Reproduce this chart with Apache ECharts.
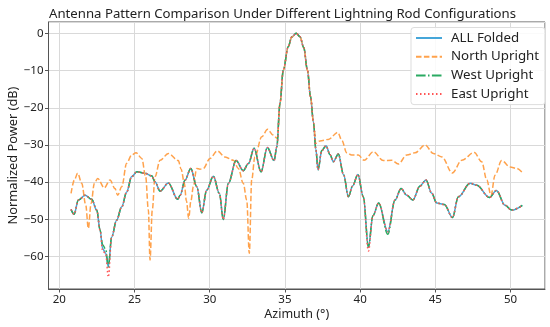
<!DOCTYPE html>
<html>
<head>
<meta charset="utf-8">
<script src="https://cdn.jsdelivr.net/npm/echarts@6/dist/echarts.min.js"></script>
<style>html,body{margin:0;padding:0;background:#fff}#c{width:550px;height:327px}</style>
</head>
<body>
<div id="c"></div>
<script>
const titleText = 'Antenna Pattern Comparison Under Different Lightning Rod Configurations';
const seriesNames = ['ALL Folded', 'North Upright', 'West Upright', 'East Upright'];

const foldedAz = [20.78, 20.98, 21.27, 21.71, 22.15, 22.49, 22.71, 22.88, 23.08, 23.26, 23.48, 23.81, 24.15, 24.48, 24.81, 25.16, 25.7, 26.14, 26.36, 26.7, 27.25, 27.87, 28.03, 28.36, 28.74, 29.14, 29.47, 29.8, 30.24, 30.64, 30.9, 31.24, 31.75, 32.23, 32.57, 32.95, 33.41, 33.83, 34.28, 34.46, 34.67, 34.89, 35.22, 35.45, 35.75, 36.0, 36.25, 36.5, 36.7, 36.9, 37.05, 37.2, 37.45, 37.73, 38.0, 38.22, 38.55, 38.9, 39.22, 39.5, 39.85, 40.21, 40.55, 40.85, 41.23, 41.84, 42.32, 42.72, 43.1, 43.5, 43.98, 44.38, 44.76, 45.09, 45.6, 46.14, 46.53, 47.31, 47.75, 48.6, 49.06, 49.63, 50.08, 50.78];
const foldedDb = [-47.3, -48.6, -44.8, -43.5, -44.6, -47.5, -52.9, -57.8, -59.1, -62.7, -54.7, -50.2, -46.6, -42.6, -38.5, -37.2, -37.6, -38.3, -39.9, -42.4, -40.2, -44.6, -43.5, -39.4, -36.3, -41.2, -48.2, -42.1, -38.4, -43.0, -50.0, -40.3, -34.2, -36.9, -35.0, -30.9, -37.2, -30.7, -34.2, -30.5, -18.8, -9.9, -3.6, -1.0, 0, -0.9, -3.8, -10.0, -17.0, -24.0, -31.0, -36.7, -31.5, -30.2, -32.6, -34.5, -32.4, -38.0, -43.9, -41.0, -37.9, -43.9, -57.4, -49.0, -45.6, -53.3, -44.8, -41.7, -43.5, -44.8, -41.0, -39.4, -43.0, -45.6, -46.0, -49.5, -43.9, -40.3, -40.8, -44.1, -42.2, -46.2, -47.5, -46.2];
const westDb = [-47.3, -48.6, -44.8, -43.5, -44.6, -47.5, -52.9, -56.8, -58.0, -62.7, -54.7, -50.2, -46.6, -42.6, -38.5, -37.2, -37.6, -38.3, -39.9, -42.4, -40.2, -44.6, -43.5, -39.4, -36.3, -41.2, -48.2, -42.1, -38.4, -43.0, -50.0, -40.3, -34.2, -36.9, -35.0, -30.9, -37.2, -30.7, -34.2, -30.5, -18.8, -9.9, -3.6, -1.0, 0, -0.9, -3.8, -10.0, -17.0, -24.0, -31.0, -36.7, -31.5, -30.2, -32.6, -34.5, -32.4, -38.0, -43.9, -41.0, -37.9, -43.9, -57.4, -49.0, -45.6, -54.0, -44.8, -41.7, -43.5, -44.8, -41.0, -39.4, -43.0, -45.6, -46.0, -49.5, -43.9, -40.3, -40.8, -44.1, -42.2, -46.2, -47.5, -46.2];
const eastDb = [-47.3, -48.6, -44.8, -43.5, -44.6, -47.5, -52.9, -58.5, -59.1, -65.5, -54.7, -50.2, -46.6, -42.6, -38.5, -37.2, -37.6, -38.3, -39.9, -42.4, -40.2, -44.6, -43.5, -39.4, -36.3, -41.2, -48.2, -42.1, -38.4, -43.0, -50.0, -40.3, -34.2, -36.9, -35.0, -30.9, -37.2, -30.7, -34.2, -30.5, -18.8, -9.9, -3.6, -1.0, 0, -0.9, -3.8, -10.0, -17.0, -24.0, -31.0, -36.7, -31.5, -30.2, -32.6, -34.5, -32.4, -38.0, -43.9, -41.0, -37.9, -43.9, -58.5, -49.0, -45.6, -53.3, -44.8, -41.7, -43.5, -44.8, -41.0, -39.4, -43.0, -45.6, -46.0, -49.5, -43.9, -40.3, -40.8, -44.1, -42.2, -46.2, -47.5, -46.2];

const northAz = [20.78, 21.0, 21.22, 21.49, 21.75, 21.93, 22.11, 22.33, 22.55, 22.99, 23.37, 23.7, 23.88, 24.15, 24.48, 24.81, 25.1, 25.48, 25.74, 25.92, 26.03, 26.18, 26.36, 26.7, 27.25, 27.91, 28.1, 28.3, 28.45, 28.6, 28.75, 28.91, 29.13, 29.35, 29.57, 30.02, 30.5, 31.02, 31.57, 31.9, 32.23, 32.46, 32.63, 32.79, 33.0, 33.46, 33.85, 34.2, 34.5, 34.67, 34.89, 35.22, 35.45, 35.75, 36.0, 36.25, 36.5, 36.7, 36.9, 37.05, 37.33, 37.89, 38.51, 38.78, 39.11, 39.44, 39.88, 40.26, 40.88, 41.54, 42.1, 42.54, 43.1, 43.65, 44.32, 44.87, 45.43, 46.13, 46.76, 47.59, 48.08, 48.42, 48.7, 48.97, 49.41, 49.97, 50.41, 50.78];
const northDb = [-43.0, -39.4, -37.6, -40.3, -46.0, -52.4, -45.7, -40.3, -39.0, -41.5, -39.4, -41.7, -43.5, -41.2, -34.9, -32.7, -32.1, -33.6, -38.5, -47.5, -60.9, -47.5, -38.5, -34.1, -32.3, -34.2, -36.5, -40.0, -45.0, -49.7, -45.0, -41.2, -36.3, -36.5, -36.3, -33.6, -31.6, -33.2, -34.1, -36.3, -40.3, -44.8, -59.1, -39.4, -33.2, -27.8, -25.8, -27.3, -28.2, -18.8, -9.9, -3.6, -1.0, 0, -0.9, -3.8, -10.0, -17.0, -24.0, -29.6, -28.9, -28.5, -26.6, -28.7, -32.1, -32.7, -32.7, -34.1, -31.8, -34.2, -34.1, -35.1, -32.7, -32.1, -30.0, -32.3, -33.2, -37.5, -34.1, -32.0, -34.5, -39.4, -43.5, -38.1, -34.2, -35.9, -36.3, -37.4];

const xTicks = [20, 25, 30, 35, 40, 45, 50];
const yTicks = [0, -10, -20, -30, -40, -50, -60];

const zip = (xs, ys) => xs.map((x, i) => [x, ys[i]]);
const FONT = 'Noto Sans';
const chart = echarts.init(document.getElementById('c'), null, {renderer: 'canvas'});

function lineSeries(name, data, color, type, width) {
  return {
    name, type: 'line', data, symbol: 'none', showSymbol: false, smooth: 0.35, smoothMonotone: 'x',
    lineStyle: {color, width, type}, itemStyle: {color}, z: 2
  };
}

chart.setOption({
  animation: false,
  backgroundColor: '#fff',
  textStyle: {fontFamily: FONT},
  title: {
    text: titleText, left: 44, top: 3,
    textStyle: {fontFamily: FONT, fontSize: 13.2, fontWeight: 'normal', color: '#222'}
  },
  grid: {left: 48.5, right: 5, top: 22, bottom: 38, show: true, borderColor: '#555', borderWidth: 1, containLabel: false, outerBoundsMode: 'none'},
  legend: {
    orient: 'vertical', left: 411, top: 27.5,
    itemWidth: 26, itemHeight: 14, itemGap: 5.7,
    padding: [4, 6, 4, 4],
    borderColor: '#ddd', borderWidth: 1, borderRadius: 3,
    backgroundColor: 'rgba(255,255,255,0.85)',
    itemStyle: {opacity: 0},
    textStyle: {fontFamily: FONT, fontSize: 13.3, color: '#222', padding: [0, 0, 0, 4]},
    data: seriesNames
  },
  xAxis: {
    type: 'value', min: 19.28, max: 52.29, minInterval: 5, maxInterval: 5,
    name: 'Azimuth (°)', nameLocation: 'middle', nameGap: 19, nameMoveOverlap: false,
    nameTextStyle: {fontFamily: FONT, fontSize: 12.5, color: '#222'},
    axisLine: {show: true, onZero: false, lineStyle: {color: '#555'}},
    axisTick: {show: true, length: 3.5, lineStyle: {color: '#555'}},
    axisLabel: {fontFamily: FONT, fontSize: 11.5, color: '#222', margin: 5, showMinLabel: false, showMaxLabel: false,
      formatter: v => xTicks.includes(Math.round(v)) && Math.abs(v - Math.round(v)) < 1e-6 ? String(Math.round(v)) : ''},
    splitLine: {show: true, lineStyle: {color: '#d9d9d9', width: 1}}
  },
  yAxis: {
    type: 'value', min: -68.7, max: 3.05, minInterval: 10, maxInterval: 10,
    name: 'Normalized Power (dB)', nameLocation: 'middle', nameGap: 29, nameMoveOverlap: false,
    nameTextStyle: {fontFamily: FONT, fontSize: 12.8, color: '#222'},
    axisLine: {show: true, onZero: false, lineStyle: {color: '#555'}},
    axisTick: {show: true, length: 3.5, lineStyle: {color: '#555'}},
    axisLabel: {fontFamily: FONT, fontSize: 11.5, color: '#222', margin: 5, showMinLabel: false, showMaxLabel: false,
      formatter: v => yTicks.includes(Math.round(v)) && Math.abs(v - Math.round(v)) < 1e-6 ? String(Math.round(v)).replace('-', '\u2212') : ''},
    splitLine: {show: true, lineStyle: {color: '#d9d9d9', width: 1}}
  },
  series: [
    lineSeries(seriesNames[0], zip(foldedAz, foldedDb), '#45a6d9', 'solid', 1.5),
    lineSeries(seriesNames[1], zip(northAz, northDb), '#ffa24c', [5.5, 2.4], 1.5),
    lineSeries(seriesNames[2], zip(foldedAz, westDb), '#2aaa62', [9.6, 2.4, 1.5, 2.4], 1.5),
    lineSeries(seriesNames[3], zip(foldedAz, eastDb), '#ff5555', [1.5, 2.5], 1.5)
  ]
});
</script>
</body>
</html>
